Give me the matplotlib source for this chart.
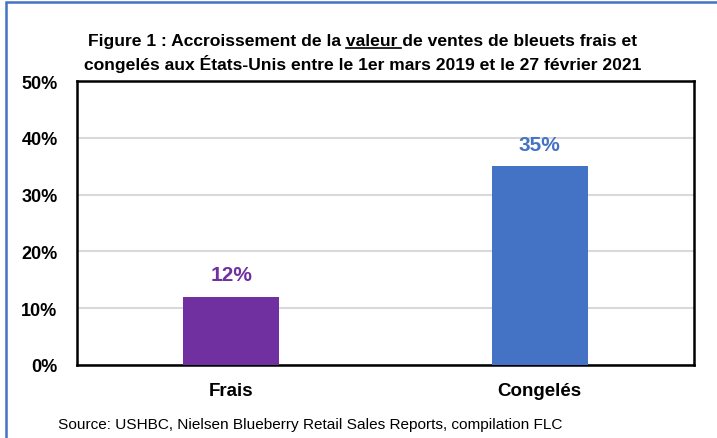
import matplotlib.pyplot as plt
from matplotlib.patches import Rectangle
from matplotlib.lines import Line2D
from matplotlib.ticker import PercentFormatter

categories = ["Frais", "Congelés"]
values = [12, 35]
colors = ["#7030A0", "#4472C4"]
yticks = [0, 10, 20, 30, 40, 50]

title_pre = "Figure 1 : Accroissement de la "
title_word = "valeur"
title_post = " de ventes de bleuets frais et"
title_line2 = "congelés aux États-Unis entre le 1er mars 2019 et le 27 février 2021"
source = "Source: USHBC, Nielsen Blueberry Retail Sales Reports, compilation FLC"

plt.rcParams["font.family"] = ["Liberation Sans Narrow", "Liberation Sans", "DejaVu Sans"]

fig = plt.figure(figsize=(7.17, 4.39), dpi=100)
ax = fig.add_axes([0.1074, 0.1663, 0.8605, 0.6469])

x = list(range(len(categories)))
ax.bar(x, values, width=0.31, color=colors, zorder=3)
for xi, v, c in zip(x, values, colors):
    ax.text(xi, v + 2.2, f"{v}%", ha="center", va="bottom", color=c,
            fontsize=15, fontweight="bold")

ax.set_xlim(-0.5, 1.5)
ax.set_ylim(0, 50)
ax.set_yticks(yticks)
ax.yaxis.set_major_formatter(PercentFormatter(decimals=0))
ax.set_xticks(x)
ax.set_xticklabels(categories, fontsize=13.5, fontweight="bold")
for lab in ax.get_yticklabels():
    lab.set_fontsize(13)
    lab.set_fontweight("bold")
ax.tick_params(axis="both", length=0)
ax.tick_params(axis="y", pad=14)
ax.tick_params(axis="x", pad=12)
ax.grid(axis="y", color="#D9D9D9", linewidth=1.5, zorder=0)
for s in ax.spines.values():
    s.set_linewidth(1.8)
    s.set_color("black")

tsize = 12.6
t1 = fig.text(0.506, 0.895, title_pre + title_word + title_post,
              ha="center", va="baseline", fontsize=tsize, fontweight="bold")
fig.text(0.506, 0.84, title_line2, ha="center", va="baseline",
         fontsize=tsize, fontweight="bold")

# underline the word "valeur" in the first title line
fig.canvas.draw()
r = fig.canvas.get_renderer()
full = t1.get_window_extent(r)
tmp = fig.text(0, 0, title_pre + title_word, fontsize=tsize, fontweight="bold")
w_pre_word = tmp.get_window_extent(r).width
tmp.set_text(title_pre.rstrip())
w_pre = tmp.get_window_extent(r).width
tmp.remove()
sp = fig.text(0, 0, "a a", fontsize=tsize, fontweight="bold")
w_sp = sp.get_window_extent(r).width
sp.set_text("aa")
w_sp -= sp.get_window_extent(r).width
sp.remove()
x0 = (full.x0 + w_pre + w_sp) / fig.bbox.width
x1 = (full.x0 + w_pre_word + w_sp * 0.7) / fig.bbox.width
yu = 0.895 - 3.0 / fig.bbox.height
fig.add_artist(Line2D([x0, x1], [yu, yu], color="black", linewidth=1.2,
                      transform=fig.transFigure))

fig.text(0.081, 0.023, source, ha="left", va="baseline", fontsize=11.1)

fig.patches.append(Rectangle((0.008, -0.01), 1.2, 1.003, transform=fig.transFigure,
                             fill=False, edgecolor="#4472C4", linewidth=1.8))

fig.savefig("out.png", dpi=100)
